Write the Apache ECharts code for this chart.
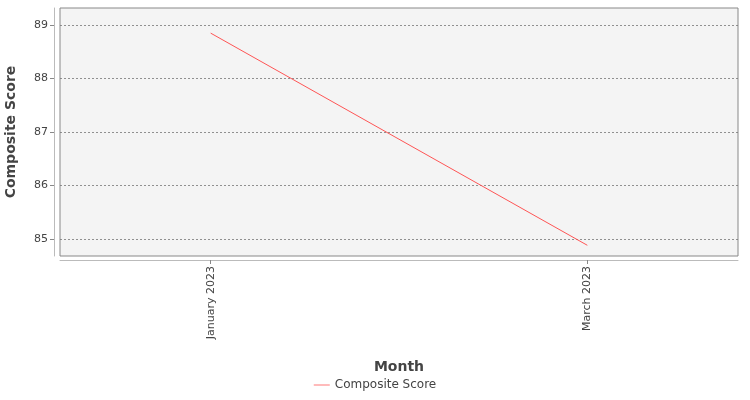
<!DOCTYPE html>
<html><head><meta charset="utf-8">
<script src="https://cdn.jsdelivr.net/npm/echarts@6/dist/echarts.min.js"></script>
<style>html,body{margin:0;padding:0;background:#fff}#c{width:750px;height:400px}</style>
</head><body><div id="c"></div>
<script>
const categories = ["January 2023", "March 2023"];
const compositeScore = [88.85, 84.88];
const yTicks = [85, 86, 87, 88, 89];

const chart = echarts.init(document.getElementById('c'));
const font = 'DejaVu Sans';
chart.setOption({
  animation: false,
  textStyle: {fontFamily: font},
  grid: {left: 60, right: 12, top: 8, bottom: 144, containLabel: false, outerBoundsMode: 'none',
    show: true, backgroundColor: '#f4f4f4', borderColor: '#888', borderWidth: 1},
  legend: {bottom: 4, icon: 'path://M0,5L20,5L20,6L0,6Z', itemWidth: 16, itemHeight: 8,
    textStyle: {fontSize: 12, color: '#444', fontFamily: font}, data: ['Composite Score']},
  xAxis: {
    type: 'value', min: -0.4, max: 1.4, offset: 4,
    name: 'Month', nameLocation: 'middle', nameGap: 100,
    nameTextStyle: {fontSize: 14, fontWeight: 'bold', color: '#444', fontFamily: font},
    axisLine: {show: true, onZero: false, lineStyle: {color: '#bbb'}},
    axisTick: {show: true, customValues: [0, 1], length: 4, lineStyle: {color: '#888'}},
    splitLine: {show: false},
    axisLabel: {customValues: [0, 1], rotate: 90, fontSize: 11, color: '#444', margin: 6,
      formatter: v => categories[Math.round(v)] || ''}
  },
  yAxis: {
    type: 'value', min: 84.68, max: 89.32, offset: 6,
    name: 'Composite Score', nameLocation: 'middle', nameGap: 36,
    nameTextStyle: {fontSize: 14, fontWeight: 'bold', color: '#444', fontFamily: font},
    axisLine: {show: true, onZero: false, lineStyle: {color: '#bbb'}},
    axisTick: {show: true, customValues: yTicks, length: 4, lineStyle: {color: '#888'}},
    axisLabel: {customValues: yTicks, fontSize: 11, color: '#444', margin: 6},
    splitLine: {show: true, lineStyle: {color: '#777', type: [2, 2], width: 0.8}}
  },
  series: [{
    name: 'Composite Score', type: 'line', symbol: 'none',
    lineStyle: {color: '#ff5555', width: 1}, itemStyle: {color: '#ff5555'},
    data: compositeScore.map((v, i) => [i, v])
  }]
});
</script></body></html>
